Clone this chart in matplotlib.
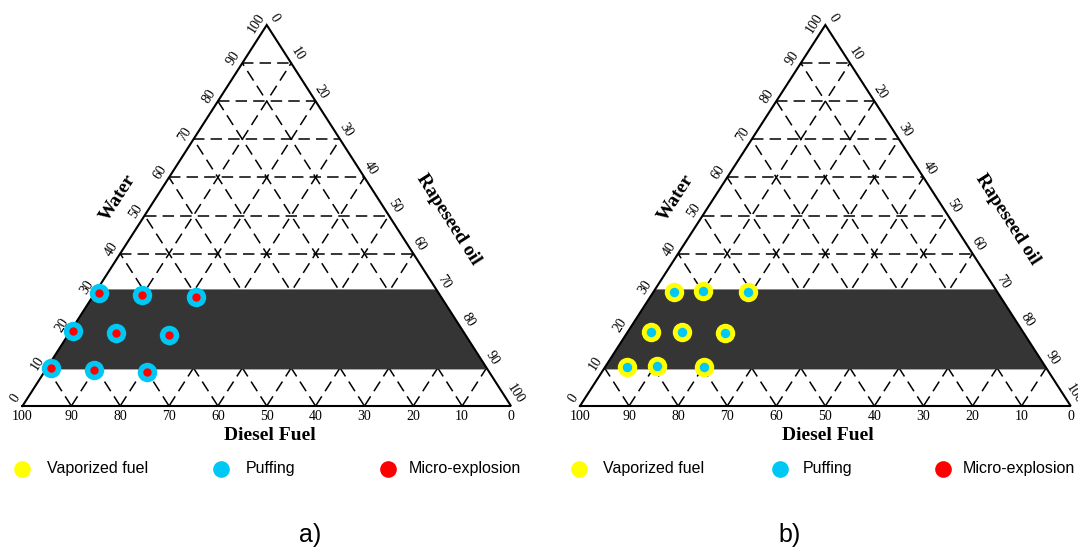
import numpy as np
import matplotlib.pyplot as plt
from matplotlib.patches import Polygon

# compositions in % (diesel = 100 - water - rapeseed)
water_a = [29.6, 29.1, 28.7, 19.7, 19.2, 18.7, 9.9, 9.4, 9.0]
rapeseed_a = [0.9, 10.0, 21.1, 0.5, 9.6, 20.7, 0.8, 9.9, 20.9]
water_b = [29.8, 30.2, 29.8, 19.4, 19.4, 19.2, 10.2, 10.5, 10.2]
rapeseed_b = [4.3, 9.9, 19.3, 4.8, 11.0, 20.0, 4.4, 10.5, 20.2]

band_water = [9.6, 30.6]  # dark band of water content
ticks = list(range(0, 101, 10))
grid_levels = list(range(10, 100, 10))

legend_labels = ["Vaporized fuel", "Puffing", "Micro-explosion"]
legend_colors = ["#ffff00", "#00c8f5", "#ff0000"]
panel_tags = ["a)", "b)"]

SERIF = "Liberation Serif"
SANS = "Liberation Sans"
W_FIG, H_FIG = 1078, 550


def cart(w, r):
    # water w, rapeseed r in % -> (x, y) of the triangle axes
    w = np.asarray(w, float)
    r = np.asarray(r, float)
    return (r + w / 2) / 100, w / 100


def panel(fig, rect_px, water, rapeseed, outer, inner, inner_ms, tag, tag_px, leg_px):
    x0, ybase, wpx, hpx = rect_px
    ax = fig.add_axes([x0 / W_FIG, (H_FIG - ybase) / H_FIG, wpx / W_FIG, hpx / H_FIG])
    ax.set_xlim(0, 1)
    ax.set_ylim(0, 1)
    ax.axis("off")

    # grid of dashed lines
    for k in grid_levels:
        kw = dict(color="black", lw=1.1, ls=(0, (7.5, 4)), zorder=1)
        ax.plot([k / 200, (100 - k / 2) / 100], [k / 100, k / 100], **kw)
        ax.plot([k / 100, (50 + k / 2) / 100], [0, (100 - k) / 100], **kw)
        ax.plot([(100 - k) / 100, (100 - k) / 200], [0, (100 - k) / 100], **kw)

    # dark band
    lo, hi = band_water
    bx, by = cart([lo, lo, hi, hi], [0, 100 - lo, 100 - hi, 0])
    ax.add_patch(Polygon(np.column_stack([bx, by]), closed=True,
                         facecolor="#353535", edgecolor="none", zorder=2))

    # triangle frame
    ax.plot([0, 1, 0.5, 0], [0, 0, 1, 0], color="black", lw=1.5, zorder=3,
            clip_on=False, solid_joinstyle="miter")

    # points
    px, py = cart(water, rapeseed)
    ax.plot(px, py, "o", ms=14, color=outer, mew=0, zorder=4, clip_on=False)
    ax.plot(px, py, "o", ms=inner_ms, color=inner, mew=0, zorder=5, clip_on=False)

    # edge geometry in pixels
    L = np.hypot(wpx / 2, hpx)
    uL = np.array([wpx / 2, hpx]) / L
    nL = np.array([-hpx, wpx / 2]) / L
    uR = np.array([wpx / 2, -hpx]) / L
    nR = np.array([hpx, wpx / 2]) / L
    ang = np.degrees(np.arctan2(hpx, wpx / 2))

    fs = 10
    for t in ticks:
        # water (left edge)
        off = nL * 10 + uL * 6
        ax.annotate(str(t), cart(t, 0), xytext=tuple(off), textcoords="offset pixels",
                    rotation=ang, rotation_mode="anchor", ha="right", va="center",
                    family=SERIF, fontsize=fs, annotation_clip=False)
        # rapeseed (right edge)
        off = nR * 10 + uR * 2
        ax.annotate(str(t), cart(100 - t, t), xytext=tuple(off), textcoords="offset pixels",
                    rotation=-ang, rotation_mode="anchor", ha="right", va="center",
                    family=SERIF, fontsize=fs, annotation_clip=False)
        # diesel (bottom)
        ax.annotate(str(t), ((100 - t) / 100, 0), xytext=(0, -11), textcoords="offset pixels",
                    ha="center", va="center", family=SERIF, fontsize=fs,
                    annotation_clip=False)

    ax.annotate("Water", cart(50, 0), xytext=tuple(nL * 32), textcoords="offset pixels",
                rotation=ang, rotation_mode="anchor", ha="center", va="center",
                family=SERIF, fontsize=14, fontweight="bold", annotation_clip=False)
    ax.annotate("Rapeseed oil", cart(50, 50), xytext=tuple(nR * 48 + uR * 35),
                textcoords="offset pixels", rotation=-ang, rotation_mode="anchor",
                ha="center", va="center", family=SERIF, fontsize=14,
                fontweight="bold", annotation_clip=False)
    ax.annotate("Diesel Fuel", (0.5, 0), xytext=(3, -30), textcoords="offset pixels",
                ha="center", va="center", family=SERIF, fontsize=14,
                fontweight="bold", annotation_clip=False)

    # legend row
    fy = 1 - 469 / H_FIG
    for (cx, tx), lab, col in zip(leg_px, legend_labels, legend_colors):
        ax.plot([cx / W_FIG], [fy], "o", ms=12, color=col, mew=0,
                transform=fig.transFigure, clip_on=False)
        fig.text(tx / W_FIG, fy, lab, ha="left", va="center", family=SANS, fontsize=11.5)

    fig.text(tag_px / W_FIG, 1 - 535 / H_FIG, tag, ha="center", va="center",
             family=SANS, fontsize=18)
    return ax


fig = plt.figure(figsize=(W_FIG / 100, H_FIG / 100), dpi=100)
fig.patch.set_facecolor("white")

panel(fig, (22.5, 406, 488.5, 381), water_a, rapeseed_a, "#00c8f5", "#ff0000", 6.0,
      panel_tags[0], 310, [(22, 47), (221, 246), (388, 409)])
panel(fig, (580, 406, 490.7, 381), water_b, rapeseed_b, "#ffff00", "#00c8f5", 6.8,
      panel_tags[1], 790, [(579, 603), (780, 803), (943, 963)])

fig.savefig("out.png", dpi=100)
